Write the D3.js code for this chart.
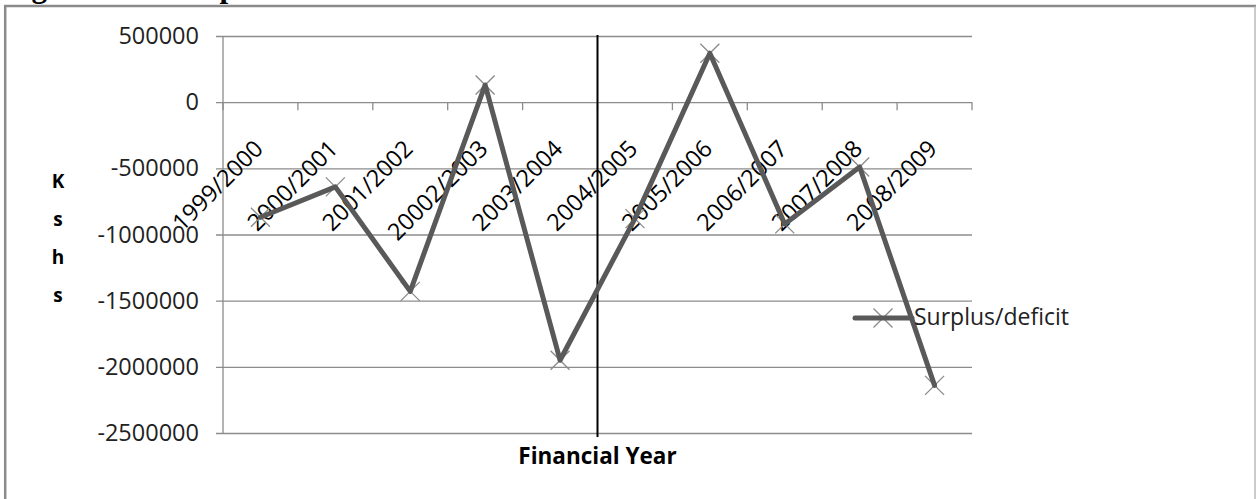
<!DOCTYPE html>
<html>
<head>
<meta charset="utf-8">
<script src="https://cdn.jsdelivr.net/npm/d3@7/dist/d3.min.js"></script>
<style>
  html, body { margin: 0; padding: 0; background: #fff; overflow: hidden; }
  svg { display: block; }
</style>
</head>
<body>
<svg id="chart" width="1260" height="499"></svg>
<script>
// Financial years on the category axis
const categories = ["1999/2000", "2000/2001", "2001/2002", "20002/2003", "2003/2004",
                    "2004/2005", "2005/2006", "2006/2007", "2007/2008", "2008/2009"];
// Surplus / deficit per year (Kshs)
const surplusDeficit = [-870000, -640000, -1430000, 130000, -1950000,
                        -880000, 370000, -920000, -490000, -2140000];
// Value-axis ticks and their printed labels
const yTicks = [500000, 0, -500000, -1000000, -1500000, -2000000, -2500000];
const yTickLabels = ["500000", "0", "-500000", "-1000000", "-1500000", "-2000000", "-2500000"];
const seriesName = "Surplus/deficit";
const xTitle = "Financial Year";
const yTitle = ["K", "s", "h", "s"];
const caption = "Figure 4.10: Surplus/deficit";

const svg = d3.select("#chart");
const font = "'Open Sans', 'Liberation Sans', sans-serif";

const plot = { left: 223, right: 972, top: 36, bottom: 433 };

const x = d3.scaleBand().domain(categories).range([plot.left, plot.right]).paddingInner(0).paddingOuter(0);
const y = d3.scaleLinear().domain([-2500000, 500000]).range([plot.bottom, plot.top]);

// Caption above the frame (only its descenders fall inside the page)
svg.append("text")
  .attr("x", 4).attr("y", -3.5)
  .attr("font-family", "'Liberation Serif', serif")
  .attr("font-weight", "bold")
  .attr("font-size", 31)
  .attr("fill", "#000")
  .text(caption);

// Frame around the chart object
svg.append("line").attr("x1", 4).attr("x2", 1256).attr("y1", 6).attr("y2", 6)
  .attr("stroke", "#8a8a8a").attr("stroke-width", 2.5);
svg.append("line").attr("x1", 5.2).attr("x2", 5.2).attr("y1", 5).attr("y2", 499)
  .attr("stroke", "#8a8a8a").attr("stroke-width", 2.5);
svg.append("line").attr("x1", 1255).attr("x2", 1255).attr("y1", 6).attr("y2", 499)
  .attr("stroke", "#b0b0b0").attr("stroke-width", 1.3);

// Horizontal gridlines with outward tick marks and value labels
const tickOut = 7;
const yAxis = d3.axisLeft(y)
  .tickValues(yTicks)
  .tickSize(-(plot.right - plot.left + tickOut))
  .tickPadding(17)
  .tickFormat((d, i) => yTickLabels[i]);

const gy = svg.append("g")
  .attr("transform", `translate(${plot.left - tickOut},0)`)
  .call(yAxis);
gy.select(".domain").remove();
gy.selectAll(".tick line").attr("stroke", "#8c8c8c").attr("stroke-width", 1.3);
gy.selectAll(".tick text")
  .attr("font-family", font)
  .attr("font-size", 23.5)
  .attr("fill", "#222");

// Vertical value axis line
svg.append("line")
  .attr("x1", plot.left).attr("x2", plot.left)
  .attr("y1", y(500000)).attr("y2", y(-2500000))
  .attr("stroke", "#8c8c8c").attr("stroke-width", 1.3);

// Category axis crossing at zero, tick marks at category boundaries
const y0 = y(0);
const boundaries = d3.range(categories.length + 1).map(i => plot.left + i * x.step());
svg.append("g").selectAll("line")
  .data(boundaries)
  .join("line")
  .attr("x1", d => d).attr("x2", d => d)
  .attr("y1", y0).attr("y2", y0 + 8)
  .attr("stroke", "#8c8c8c").attr("stroke-width", 1.3);

// Rotated category labels below the zero line
svg.append("g").selectAll("text")
  .data(categories)
  .join("text")
  .attr("transform", d => `translate(${x(d) + x.bandwidth() / 2 + 4},${y0 + 48}) rotate(-45)`)
  .attr("text-anchor", "end")
  .attr("font-family", font)
  .attr("font-size", 23.5)
  .attr("fill", "#000")
  .text(d => d);

// Vertical divider drawn between 2003/2004 and 2004/2005
svg.append("line")
  .attr("x1", x(categories[5])).attr("x2", x(categories[5]))
  .attr("y1", y(500000) - 1).attr("y2", y(-2500000) + 4)
  .attr("stroke", "#000").attr("stroke-width", 2);

// X-shaped markers
const cx = d => x(d) + x.bandwidth() / 2;
const pts = categories.map((c, i) => ({ c, v: surplusDeficit[i] }));
const m = 9.5;
function xMarker(g, px, py) {
  g.append("path")
    .attr("d", `M${px - m},${py - m}L${px + m},${py + m}M${px - m},${py + m}L${px + m},${py - m}`)
    .attr("stroke", "#8a8a8a").attr("stroke-width", 1.3).attr("fill", "none");
}
const gm = svg.append("g");
pts.forEach(p => xMarker(gm, cx(p.c), y(p.v)));

// Series line
const line = d3.line().x(p => cx(p.c)).y(p => y(p.v));
svg.append("path")
  .datum(pts)
  .attr("d", line)
  .attr("fill", "none")
  .attr("stroke", "#595959")
  .attr("stroke-width", 5)
  .attr("stroke-linejoin", "round")
  .attr("stroke-linecap", "round");

// Legend
const lg = svg.append("g");
const ly = 318;
xMarker(lg, 883, ly);
lg.append("line").attr("x1", 855).attr("x2", 912).attr("y1", ly).attr("y2", ly)
  .attr("stroke", "#595959").attr("stroke-width", 5).attr("stroke-linecap", "round");
lg.append("text")
  .attr("x", 914).attr("y", ly + 7)
  .attr("font-family", font)
  .attr("font-size", 23)
  .attr("fill", "#222")
  .text(seriesName);

// Axis titles
svg.append("text")
  .attr("x", (plot.left + plot.right) / 2).attr("y", 464)
  .attr("text-anchor", "middle")
  .attr("font-family", font)
  .attr("font-weight", "bold")
  .attr("font-size", 22.5)
  .attr("fill", "#000")
  .text(xTitle);

svg.append("g").selectAll("text")
  .data(yTitle)
  .join("text")
  .attr("x", 58).attr("y", (d, i) => 188 + i * 38)
  .attr("text-anchor", "middle")
  .attr("font-family", font)
  .attr("font-weight", "bold")
  .attr("font-size", 19)
  .attr("fill", "#000")
  .text(d => d);
</script>
</body>
</html>
